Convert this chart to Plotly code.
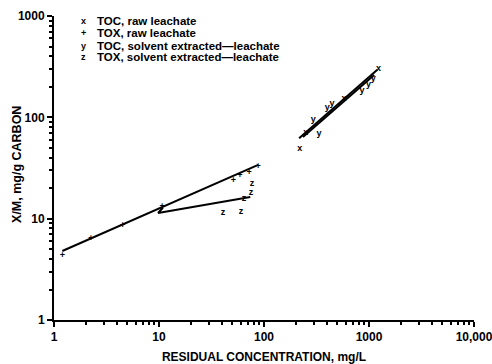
import plotly.graph_objects as go

# Adsorption isotherm data: residual concentration (mg/L) vs X/M (mg/g carbon)
toc_raw_x = [219, 250, 578, 1230]
toc_raw_y = [48.9, 70, 151, 300]

tox_raw_x = [1.2, 2.25, 4.5, 10.7, 51, 59, 72, 88]
tox_raw_y = [4.3, 6.3, 8.5, 13.1, 23.6, 26.4, 28.3, 32.4]

toc_ext_x = [294, 334, 400, 444, 860, 990, 1100]
toc_ext_y = [94, 68.8, 124, 135, 185, 210, 240]

tox_ext_x = [40.8, 60.3, 64.5, 75, 77]
tox_ext_y = [11.4, 11.6, 15.6, 17.9, 22.0]

# Fitted Freundlich lines
tox_raw_fit_x = [1.2, 88]
tox_raw_fit_y = [4.8, 34]
tox_ext_fit_x = [10.9, 9.8, 74]
tox_ext_fit_y = [12.8, 11.4, 16.4]
toc_raw_fit_x = [216, 1200]
toc_raw_fit_y = [62, 295]
toc_ext_fit_x = [235, 1120]
toc_ext_fit_y = [64, 262]

series = [
    ("x", "TOC, raw leachate", toc_raw_x, toc_raw_y),
    ("+", "TOX, raw leachate", tox_raw_x, tox_raw_y),
    ("y", "TOC, solvent extracted\u2014leachate", toc_ext_x, toc_ext_y),
    ("z", "TOX, solvent extracted\u2014leachate", tox_ext_x, tox_ext_y),
]

x_ticks = [1, 10, 100, 1000, 10000]
x_tick_text = ["1", "10", "100", "1000", "10,000"]
y_ticks = [1, 10, 100, 1000]
y_tick_text = ["1", "10", "100", "1000"]

FONT = "Liberation Sans, Arial, sans-serif"

fig = go.Figure()

for fx, fy in [(tox_raw_fit_x, tox_raw_fit_y), (tox_ext_fit_x, tox_ext_fit_y),
               (toc_raw_fit_x, toc_raw_fit_y), (toc_ext_fit_x, toc_ext_fit_y)]:
    fig.add_trace(go.Scatter(x=fx, y=fy, mode="lines",
                             line=dict(color="black", width=2), showlegend=False))

for sym, name, xs, ys in series:
    fig.add_trace(go.Scatter(x=xs, y=ys, mode="text", text=[sym] * len(xs),
                             textfont=dict(family=FONT, size=9, color="black", weight="bold"),
                             showlegend=False, name=name))

# Legend drawn as text rows
legend_rows_y = [0.983, 0.944, 0.901, 0.865]
for (sym, name, _, _), ly in zip(series, legend_rows_y):
    fig.add_annotation(x=(83 - 54) / 420, y=ly, xref="paper", yref="paper", text=sym,
                       showarrow=False, xanchor="center", yanchor="middle",
                       font=dict(family=FONT, size=9, color="black", weight="bold"))
    fig.add_annotation(x=(95 - 54) / 420, y=ly, xref="paper", yref="paper", text=name,
                       showarrow=False, xanchor="left", yanchor="middle",
                       font=dict(family=FONT, size=11.5, color="black", weight="bold"))

# Vertical axis title
fig.add_annotation(x=(17 - 54) / 420, y=0.51, xref="paper", yref="paper",
                   text="X/M, mg/g CARBON", textangle=-90, showarrow=False,
                   xanchor="center", yanchor="middle",
                   font=dict(family=FONT, size=12.5, color="black", weight="bold"))

minor_x = [m * 10 ** e for e in range(0, 4) for m in range(2, 10)]
minor_y = [m * 10 ** e for e in range(0, 3) for m in range(2, 10)]

fig.update_xaxes(type="log", range=[0, 4], showgrid=False, zeroline=False,
                 automargin=False, ticklabeloverflow="allow",
                 showline=True, linecolor="black", linewidth=2,
                 ticks="outside", ticklen=5, tickwidth=2, tickcolor="black",
                 tickvals=x_ticks, ticktext=x_tick_text,
                 minor=dict(tickvals=minor_x, ticks="outside", ticklen=3,
                            tickwidth=1.5, tickcolor="black", showgrid=False),
                 tickfont=dict(family=FONT, size=12, color="black", weight="bold"),
                 title=dict(text="RESIDUAL CONCENTRATION, mg/L", standoff=10,
                            font=dict(family=FONT, size=12, color="black", weight="bold")))
fig.update_yaxes(type="log", range=[0, 3], showgrid=False, zeroline=False,
                 automargin=False, ticklabeloverflow="allow",
                 showline=True, linecolor="black", linewidth=2,
                 ticks="outside", ticklen=5, tickwidth=2, tickcolor="black",
                 tickvals=y_ticks, ticktext=y_tick_text,
                 minor=dict(tickvals=minor_y, ticks="outside", ticklen=3,
                            tickwidth=1.5, tickcolor="black", showgrid=False),
                 tickfont=dict(family=FONT, size=12, color="black", weight="bold"))

fig.update_layout(width=492, height=364, margin=dict(l=54, r=18, t=16, b=44),
                  plot_bgcolor="white", paper_bgcolor="white", showlegend=False)

fig.write_html("out.html")
